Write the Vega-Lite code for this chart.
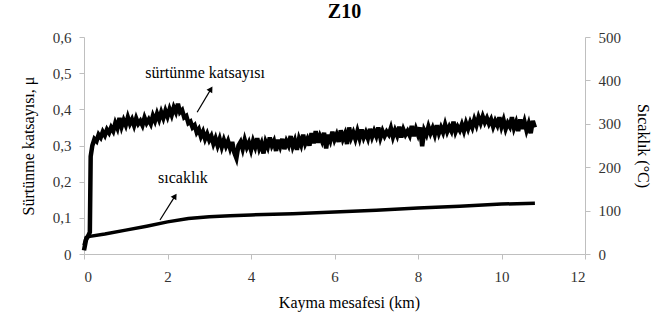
{
  "$schema": "https://vega.github.io/schema/vega-lite/v6.json",
  "width": 501,
  "height": 217,
  "autosize": {"type": "none"},
  "padding": {"left": 84, "top": 37, "right": 67, "bottom": 75},
  "background": "white",
  "title": {"text": "Z10", "font": "Liberation Serif, serif", "fontSize": 20, "fontWeight": "bold", "color": "#000000", "dx": 10, "offset": 8},
  "config": {
    "view": {"stroke": null},
    "text": {"font": "Liberation Serif, serif"},
    "axis": {
      "labelFont": "Liberation Serif, serif",
      "titleFont": "Liberation Serif, serif",
      "labelFontSize": 15,
      "titleFontSize": 16,
      "titleFontWeight": "normal",
      "labelColor": "#333333",
      "titleColor": "#000000",
      "domainColor": "#bfbfbf",
      "tickColor": "#bfbfbf",
      "grid": false,
      "tickSize": 5,
      "labelOverlap": false
    }
  },
  "datasets": {
    "mu": [
      {"km": 0.00, "mu": 0.010}, {"km": 0.05, "mu": 0.040}, {"km": 0.10, "mu": 0.050}, {"km": 0.14, "mu": 0.060}, {"km": 0.16, "mu": 0.270},
      {"km": 0.20, "mu": 0.300}, {"km": 0.25, "mu": 0.318}, {"km": 0.30, "mu": 0.312}, {"km": 0.35, "mu": 0.330}, {"km": 0.40, "mu": 0.322},
      {"km": 0.45, "mu": 0.338}, {"km": 0.50, "mu": 0.328}, {"km": 0.55, "mu": 0.344}, {"km": 0.60, "mu": 0.335}, {"km": 0.65, "mu": 0.350},
      {"km": 0.70, "mu": 0.340}, {"km": 0.75, "mu": 0.362}, {"km": 0.80, "mu": 0.348}, {"km": 0.85, "mu": 0.376}, {"km": 0.90, "mu": 0.352},
      {"km": 0.95, "mu": 0.370}, {"km": 1.00, "mu": 0.356}, {"km": 1.05, "mu": 0.378}, {"km": 1.10, "mu": 0.360}, {"km": 1.15, "mu": 0.372},
      {"km": 1.20, "mu": 0.355}, {"km": 1.25, "mu": 0.375}, {"km": 1.30, "mu": 0.360}, {"km": 1.35, "mu": 0.368}, {"km": 1.40, "mu": 0.356},
      {"km": 1.45, "mu": 0.377}, {"km": 1.50, "mu": 0.362}, {"km": 1.55, "mu": 0.372}, {"km": 1.60, "mu": 0.360}, {"km": 1.65, "mu": 0.382},
      {"km": 1.70, "mu": 0.368}, {"km": 1.75, "mu": 0.388}, {"km": 1.80, "mu": 0.372}, {"km": 1.85, "mu": 0.392}, {"km": 1.90, "mu": 0.376},
      {"km": 1.95, "mu": 0.396}, {"km": 2.00, "mu": 0.380}, {"km": 2.05, "mu": 0.400}, {"km": 2.10, "mu": 0.384}, {"km": 2.15, "mu": 0.405},
      {"km": 2.20, "mu": 0.392}, {"km": 2.25, "mu": 0.415}, {"km": 2.30, "mu": 0.392}, {"km": 2.35, "mu": 0.398}, {"km": 2.40, "mu": 0.378},
      {"km": 2.45, "mu": 0.382}, {"km": 2.50, "mu": 0.362}, {"km": 2.55, "mu": 0.366}, {"km": 2.60, "mu": 0.350}, {"km": 2.65, "mu": 0.356},
      {"km": 2.70, "mu": 0.336}, {"km": 2.75, "mu": 0.345}, {"km": 2.80, "mu": 0.325}, {"km": 2.85, "mu": 0.338}, {"km": 2.90, "mu": 0.318},
      {"km": 2.95, "mu": 0.332}, {"km": 3.00, "mu": 0.315}, {"km": 3.05, "mu": 0.326}, {"km": 3.10, "mu": 0.305}, {"km": 3.15, "mu": 0.320},
      {"km": 3.20, "mu": 0.300}, {"km": 3.25, "mu": 0.318}, {"km": 3.30, "mu": 0.296}, {"km": 3.35, "mu": 0.315}, {"km": 3.40, "mu": 0.298},
      {"km": 3.45, "mu": 0.312}, {"km": 3.50, "mu": 0.292}, {"km": 3.55, "mu": 0.310}, {"km": 3.60, "mu": 0.280}, {"km": 3.65, "mu": 0.265},
      {"km": 3.70, "mu": 0.300}, {"km": 3.75, "mu": 0.310}, {"km": 3.80, "mu": 0.290}, {"km": 3.85, "mu": 0.315}, {"km": 3.90, "mu": 0.295},
      {"km": 3.95, "mu": 0.308}, {"km": 4.00, "mu": 0.288}, {"km": 4.05, "mu": 0.312}, {"km": 4.10, "mu": 0.296}, {"km": 4.15, "mu": 0.320},
      {"km": 4.20, "mu": 0.292}, {"km": 4.25, "mu": 0.306}, {"km": 4.30, "mu": 0.278}, {"km": 4.35, "mu": 0.310}, {"km": 4.40, "mu": 0.296},
      {"km": 4.45, "mu": 0.322}, {"km": 4.50, "mu": 0.300}, {"km": 4.55, "mu": 0.312}, {"km": 4.60, "mu": 0.285}, {"km": 4.65, "mu": 0.316},
      {"km": 4.70, "mu": 0.298}, {"km": 4.75, "mu": 0.318}, {"km": 4.80, "mu": 0.290}, {"km": 4.85, "mu": 0.312}, {"km": 4.90, "mu": 0.300},
      {"km": 4.95, "mu": 0.326}, {"km": 5.00, "mu": 0.298}, {"km": 5.05, "mu": 0.314}, {"km": 5.10, "mu": 0.288}, {"km": 5.15, "mu": 0.318},
      {"km": 5.20, "mu": 0.302}, {"km": 5.25, "mu": 0.330}, {"km": 5.30, "mu": 0.305}, {"km": 5.35, "mu": 0.318}, {"km": 5.40, "mu": 0.300},
      {"km": 5.45, "mu": 0.334}, {"km": 5.50, "mu": 0.306}, {"km": 5.55, "mu": 0.340}, {"km": 5.60, "mu": 0.308}, {"km": 5.65, "mu": 0.326},
      {"km": 5.70, "mu": 0.312}, {"km": 5.75, "mu": 0.335}, {"km": 5.80, "mu": 0.292}, {"km": 5.85, "mu": 0.330}, {"km": 5.90, "mu": 0.314},
      {"km": 5.95, "mu": 0.338}, {"km": 6.00, "mu": 0.316}, {"km": 6.05, "mu": 0.330}, {"km": 6.10, "mu": 0.310}, {"km": 6.15, "mu": 0.342},
      {"km": 6.20, "mu": 0.318}, {"km": 6.25, "mu": 0.332}, {"km": 6.30, "mu": 0.304}, {"km": 6.35, "mu": 0.350}, {"km": 6.40, "mu": 0.322},
      {"km": 6.45, "mu": 0.336}, {"km": 6.50, "mu": 0.318}, {"km": 6.55, "mu": 0.340}, {"km": 6.60, "mu": 0.320}, {"km": 6.65, "mu": 0.344},
      {"km": 6.70, "mu": 0.322}, {"km": 6.75, "mu": 0.336}, {"km": 6.80, "mu": 0.320}, {"km": 6.85, "mu": 0.346}, {"km": 6.90, "mu": 0.324},
      {"km": 6.95, "mu": 0.340}, {"km": 7.00, "mu": 0.326}, {"km": 7.05, "mu": 0.350}, {"km": 7.10, "mu": 0.322}, {"km": 7.15, "mu": 0.340},
      {"km": 7.20, "mu": 0.326}, {"km": 7.25, "mu": 0.338}, {"km": 7.30, "mu": 0.330}, {"km": 7.35, "mu": 0.348}, {"km": 7.40, "mu": 0.324},
      {"km": 7.45, "mu": 0.342}, {"km": 7.50, "mu": 0.328}, {"km": 7.55, "mu": 0.352}, {"km": 7.60, "mu": 0.322}, {"km": 7.65, "mu": 0.344},
      {"km": 7.70, "mu": 0.330}, {"km": 7.75, "mu": 0.340}, {"km": 7.80, "mu": 0.328}, {"km": 7.85, "mu": 0.354}, {"km": 7.90, "mu": 0.326},
      {"km": 7.95, "mu": 0.346}, {"km": 8.00, "mu": 0.330}, {"km": 8.05, "mu": 0.350}, {"km": 8.10, "mu": 0.298}, {"km": 8.15, "mu": 0.342},
      {"km": 8.20, "mu": 0.330}, {"km": 8.25, "mu": 0.352}, {"km": 8.30, "mu": 0.334}, {"km": 8.35, "mu": 0.348}, {"km": 8.40, "mu": 0.330},
      {"km": 8.45, "mu": 0.356}, {"km": 8.50, "mu": 0.334}, {"km": 8.55, "mu": 0.350}, {"km": 8.60, "mu": 0.336}, {"km": 8.65, "mu": 0.358},
      {"km": 8.70, "mu": 0.338}, {"km": 8.75, "mu": 0.352}, {"km": 8.80, "mu": 0.340}, {"km": 8.85, "mu": 0.366}, {"km": 8.90, "mu": 0.338},
      {"km": 8.95, "mu": 0.352}, {"km": 9.00, "mu": 0.342}, {"km": 9.05, "mu": 0.358}, {"km": 9.10, "mu": 0.340}, {"km": 9.15, "mu": 0.362},
      {"km": 9.20, "mu": 0.346}, {"km": 9.25, "mu": 0.364}, {"km": 9.30, "mu": 0.350}, {"km": 9.35, "mu": 0.372}, {"km": 9.40, "mu": 0.356},
      {"km": 9.45, "mu": 0.378}, {"km": 9.50, "mu": 0.362}, {"km": 9.55, "mu": 0.380}, {"km": 9.60, "mu": 0.364}, {"km": 9.65, "mu": 0.376},
      {"km": 9.70, "mu": 0.360}, {"km": 9.75, "mu": 0.372}, {"km": 9.80, "mu": 0.352}, {"km": 9.85, "mu": 0.368}, {"km": 9.90, "mu": 0.356},
      {"km": 9.95, "mu": 0.378}, {"km": 10.00, "mu": 0.352}, {"km": 10.05, "mu": 0.370}, {"km": 10.10, "mu": 0.346}, {"km": 10.15, "mu": 0.362},
      {"km": 10.20, "mu": 0.352}, {"km": 10.25, "mu": 0.378}, {"km": 10.30, "mu": 0.348}, {"km": 10.35, "mu": 0.364}, {"km": 10.40, "mu": 0.340},
      {"km": 10.45, "mu": 0.372}, {"km": 10.50, "mu": 0.346}, {"km": 10.55, "mu": 0.366}, {"km": 10.60, "mu": 0.342}, {"km": 10.65, "mu": 0.360},
      {"km": 10.70, "mu": 0.334}, {"km": 10.75, "mu": 0.368}, {"km": 10.80, "mu": 0.350}
    ],
    "temp": [
      {"km": 0.00, "t": 20}, {"km": 0.05, "t": 38}, {"km": 0.10, "t": 40}, {"km": 0.50, "t": 46}, {"km": 1.00, "t": 55},
      {"km": 1.50, "t": 64}, {"km": 2.00, "t": 74}, {"km": 2.50, "t": 82}, {"km": 3.00, "t": 86}, {"km": 3.50, "t": 88},
      {"km": 4.00, "t": 90}, {"km": 5.00, "t": 93}, {"km": 6.00, "t": 97}, {"km": 7.00, "t": 101}, {"km": 8.00, "t": 106},
      {"km": 9.00, "t": 110}, {"km": 10.00, "t": 115}, {"km": 10.80, "t": 117}
    ],
    "notes": [
      {"label": "sürtünme katsayısı", "x": 2.9, "y": 0.5},
      {"label": "sıcaklık", "x": 2.37, "y": 0.21}
    ],
    "arrows": [
      {"x1": 2.71, "y1": 0.392, "x2": 3.04, "y2": 0.456},
      {"x1": 1.82, "y1": 0.094, "x2": 2.18, "y2": 0.160}
    ]
  },
  "layer": [
    {
      "layer": [
        {
          "data": {"name": "mu"},
          "mark": {"type": "line", "color": "#000000", "strokeWidth": 4.5, "strokeJoin": "miter"},
          "encoding": {
            "x": {"field": "km", "type": "quantitative", "scale": {"domain": [0, 12]},
                  "axis": {"values": [0, 2, 4, 6, 8, 10, 12], "title": "Kayma mesafesi (km)", "labelPadding": 10, "titlePadding": 10, "titleX": 265, "labelOverlap": false}},
            "y": {"field": "mu", "type": "quantitative", "scale": {"domain": [0, 0.6]},
                  "axis": {"values": [0, 0.1, 0.2, 0.3, 0.4, 0.5, 0.6], "title": "Sürtünme katsayısı, μ", "labelPadding": 8, "titlePadding": 16, "labelOverlap": false, "labelFlush": false,
                           "labelExpr": "datum.value == 0 ? '0' : replace(format(datum.value, '.1f'), '.', ',')"}}
          }
        },
        {
          "data": {"name": "arrows"},
          "mark": {"type": "rule", "color": "#000000", "strokeWidth": 1.2},
          "encoding": {
            "x": {"field": "x1", "type": "quantitative",
                  "axis": {"values": [0, 2, 4, 6, 8, 10, 12], "title": "Kayma mesafesi (km)", "labelPadding": 10, "titlePadding": 10, "titleX": 265, "labelOverlap": false}},
            "y": {"field": "y1", "type": "quantitative",
                  "axis": {"values": [0, 0.1, 0.2, 0.3, 0.4, 0.5, 0.6], "title": "Sürtünme katsayısı, μ", "labelPadding": 8, "titlePadding": 16, "labelOverlap": false, "labelFlush": false,
                           "labelExpr": "datum.value == 0 ? '0' : replace(format(datum.value, '.1f'), '.', ',')"}},
            "x2": {"field": "x2"},
            "y2": {"field": "y2"}
          }
        },
        {
          "data": {"name": "arrows"},
          "mark": {"type": "point", "shape": "triangle-up", "filled": true, "color": "#000000", "opacity": 1, "size": 45, "angle": 32},
          "encoding": {
            "x": {"field": "x2", "type": "quantitative",
                  "axis": {"values": [0, 2, 4, 6, 8, 10, 12], "title": "Kayma mesafesi (km)", "labelPadding": 10, "titlePadding": 10, "titleX": 265, "labelOverlap": false}},
            "y": {"field": "y2", "type": "quantitative",
                  "axis": {"values": [0, 0.1, 0.2, 0.3, 0.4, 0.5, 0.6], "title": "Sürtünme katsayısı, μ", "labelPadding": 8, "titlePadding": 16, "labelOverlap": false, "labelFlush": false,
                           "labelExpr": "datum.value == 0 ? '0' : replace(format(datum.value, '.1f'), '.', ',')"}}
          }
        },
        {
          "data": {"name": "notes"},
          "mark": {"type": "text", "font": "Liberation Serif, serif", "fontSize": 16, "color": "#000000"},
          "encoding": {
            "x": {"field": "x", "type": "quantitative",
                  "axis": {"values": [0, 2, 4, 6, 8, 10, 12], "title": "Kayma mesafesi (km)", "labelPadding": 10, "titlePadding": 10, "titleX": 265, "labelOverlap": false}},
            "y": {"field": "y", "type": "quantitative",
                  "axis": {"values": [0, 0.1, 0.2, 0.3, 0.4, 0.5, 0.6], "title": "Sürtünme katsayısı, μ", "labelPadding": 8, "titlePadding": 16, "labelOverlap": false, "labelFlush": false,
                           "labelExpr": "datum.value == 0 ? '0' : replace(format(datum.value, '.1f'), '.', ',')"}},
            "text": {"field": "label"}
          }
        }
      ]
    },
    {
      "data": {"name": "temp"},
      "mark": {"type": "line", "color": "#000000", "strokeWidth": 3.5},
      "encoding": {
        "x": {"field": "km", "type": "quantitative",
              "axis": {"values": [0, 2, 4, 6, 8, 10, 12], "title": "Kayma mesafesi (km)", "labelPadding": 10, "titlePadding": 10, "titleX": 265, "labelOverlap": false}},
        "y": {"field": "t", "type": "quantitative", "scale": {"domain": [0, 500]},
              "axis": {"orient": "right", "values": [0, 100, 200, 300, 400, 500], "title": "Sıcaklık (°C)", "labelPadding": 8, "titlePadding": 14, "labelFlush": false, "labelOverlap": false}}
      }
    }
  ],
  "resolve": {"scale": {"y": "independent"}}
}
